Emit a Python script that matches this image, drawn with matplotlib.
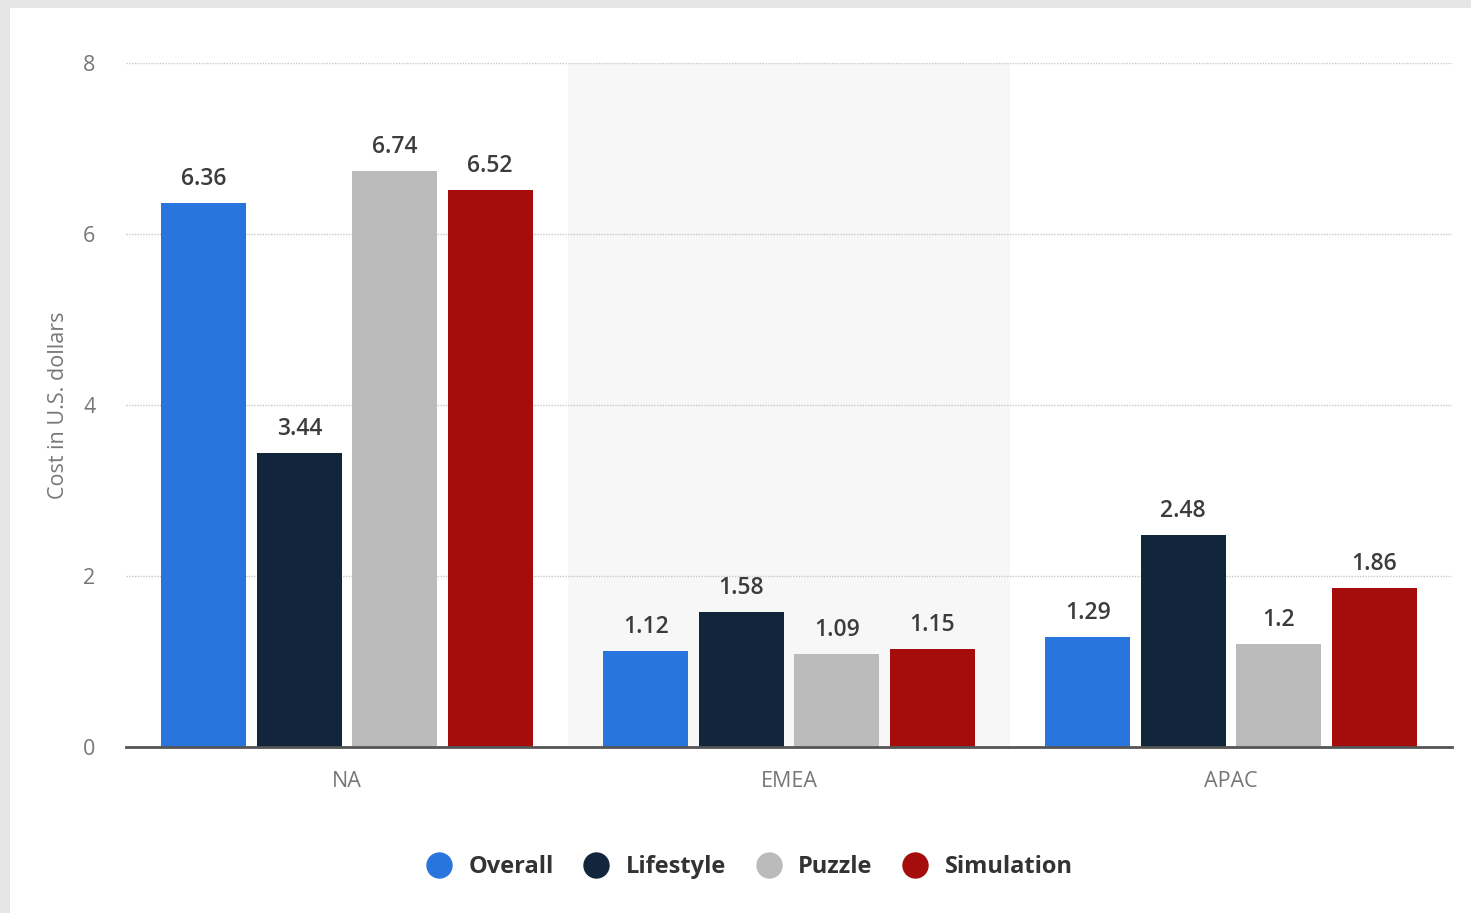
import numpy as np
import matplotlib.pyplot as plt
from matplotlib.patches import Rectangle
from matplotlib.lines import Line2D

regions = ['NA', 'EMEA', 'APAC']
series = ['Overall', 'Lifestyle', 'Puzzle', 'Simulation']
overall = [6.36, 1.12, 1.29]
lifestyle = [3.44, 1.58, 2.48]
puzzle = [6.74, 1.09, 1.2]
simulation = [6.52, 1.15, 1.86]
colors = ['#2876dd', '#12263b', '#bbbbbb', '#a50c0c']

plt.rcParams['font.family'] = ['Open Sans', 'DejaVu Sans']

fig = plt.figure(figsize=(14.71, 9.13), dpi=100)
fig.patch.set_facecolor('#e6e6e6')
# white card behind the chart
fig.add_artist(Rectangle((10 / 1471, 0), 1 - 10 / 1471, 1 - 8 / 913,
                         transform=fig.transFigure, facecolor='white',
                         edgecolor='none', zorder=0))

ax = fig.add_axes([126 / 1471, 166 / 913, 1326 / 1471, 684 / 913])
ax.set_facecolor('none')

x = np.arange(len(regions))
step = 0.216
width = 0.193
values = [overall, lifestyle, puzzle, simulation]

ax.axvspan(0.5, 1.5, color='#f7f7f7', zorder=0, lw=0)

for i, (vals, col) in enumerate(zip(values, colors)):
    pos = x + (i - 1.5) * step
    ax.bar(pos, vals, width=width, color=col, zorder=3)
    for p, v in zip(pos, vals):
        ax.text(p, v + 0.14, f'{v:g}', ha='center', va='bottom',
                fontsize=16.5, fontweight='semibold', color='#3c3c3c', zorder=4)

ax.set_xlim(-0.5, 2.5)
ax.set_ylim(0, 8)
ax.set_yticks([0, 2, 4, 6, 8])
ax.set_xticks(x)
ax.set_xticklabels(regions)
ax.tick_params(axis='both', length=0, labelsize=15.5, labelcolor='#777777')
ax.tick_params(axis='y', pad=22)
ax.tick_params(axis='x', pad=17)
ax.grid(axis='y', linestyle=(0, (1, 1)), color='#c8c8c8', lw=1, zorder=1)
for s in ['top', 'right', 'left']:
    ax.spines[s].set_visible(False)
ax.spines['bottom'].set_color('#555555')
ax.spines['bottom'].set_linewidth(2)
ax.spines['bottom'].set_zorder(5)
ax.set_ylabel('Cost in U.S. dollars', fontsize=15.5, color='#777777', labelpad=10)

handles = [Line2D([], [], marker='o', ls='none', markersize=18,
                  markerfacecolor=c, markeredgecolor=c) for c in colors]
fig.legend(handles, series, loc='center', bbox_to_anchor=(744 / 1471, 1 - 867 / 913),
           ncol=4, frameon=False, handletextpad=0.25, columnspacing=0.8,
           prop={'size': 17, 'weight': 'bold'}, labelcolor='#333333')

fig.savefig('out.png', dpi=100, facecolor=fig.get_facecolor())
